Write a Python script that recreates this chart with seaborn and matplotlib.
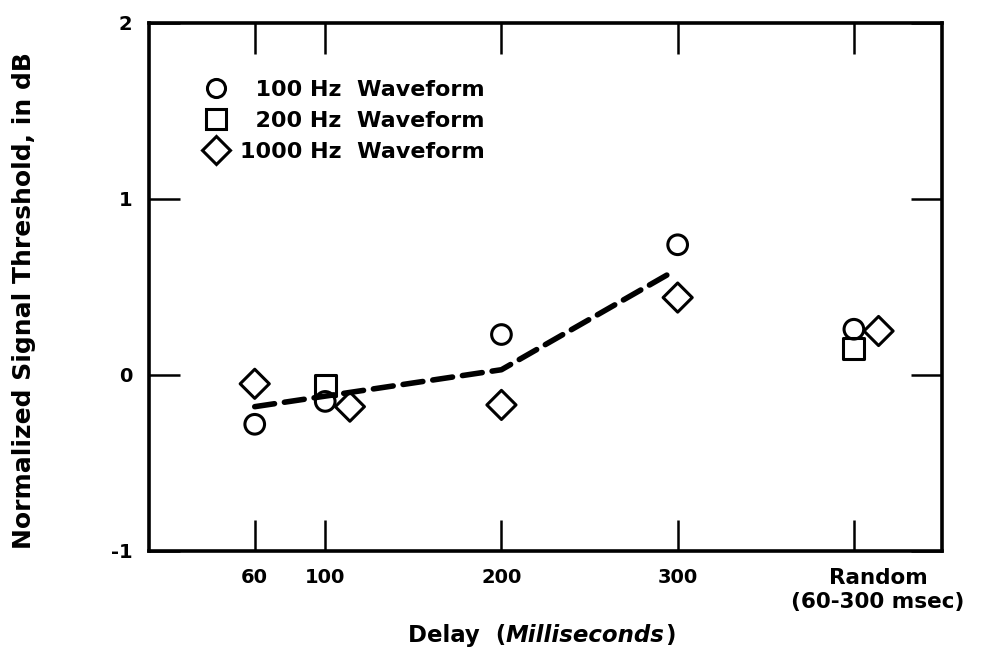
import matplotlib
matplotlib.use("Agg")
import matplotlib.pyplot as plt
import matplotlib.transforms as mtransforms
import seaborn as sns
from matplotlib.lines import Line2D
from matplotlib.offsetbox import TextArea, HPacker, AnchoredOffsetbox

# ---- data ----
delay_ticks = [60, 100, 200, 300, 400]
delay_ticklabels = ["60", "100", "200", "300", "Random\n(60-300 msec)"]
y_ticks = [-1, 0, 1, 2]
y_ticklabels = ["-1", "0", "1", "2"]

hz100_x = [60, 100, 200, 300, 400]
hz100_y = [-0.28, -0.15, 0.23, 0.74, 0.26]

hz200_x = [100, 400]
hz200_y = [-0.06, 0.15]

hz1000_x = [60, 114, 200, 300, 414]
hz1000_y = [-0.05, -0.18, -0.17, 0.44, 0.25]

fit_x = [60, 100, 200, 296]
fit_y = [-0.18, -0.12, 0.03, 0.58]

legend_labels = ["  100 Hz  Waveform", "  200 Hz  Waveform", "1000 Hz  Waveform"]

# ---- style ----
sns.set_theme(style="ticks")
plt.rcParams["font.family"] = ["DejaVu Sans"]
plt.rcParams["font.weight"] = "bold"
for k in ["text.color", "axes.labelcolor", "xtick.color", "ytick.color", "axes.edgecolor"]:
    plt.rcParams[k] = "black"

fig = plt.figure(figsize=(9.88, 6.53), dpi=100)
ax = fig.add_axes([149/988, 1 - 551/653, (942-149)/988, (551-23)/653])

ew = 2.2
sns.lineplot(x=fit_x, y=fit_y, ax=ax, color="black", linewidth=4.0,
             linestyle=(0, (3.6, 1.8)), dash_capstyle="round", estimator=None, sort=False)
sns.scatterplot(x=hz100_x, y=hz100_y, ax=ax, marker="o", s=200,
                facecolor="none", edgecolor="black", linewidth=ew, zorder=3)
sns.scatterplot(x=hz200_x, y=hz200_y, ax=ax, marker="s", s=230,
                facecolor="none", edgecolor="black", linewidth=ew, zorder=3)
sns.scatterplot(x=hz1000_x, y=hz1000_y, ax=ax, marker="D", s=220,
                facecolor="none", edgecolor="black", linewidth=ew, zorder=3)

ax.set_xlim(0, 450)
ax.set_ylim(-0.97, 2.0)

for s in ax.spines.values():
    s.set_visible(True)
    s.set_linewidth(2.6)
    s.set_color("black")

ax.tick_params(axis="x", which="both", direction="in", length=22, width=1.8,
               top=True, bottom=True, pad=12, colors="black")
ax.tick_params(axis="y", which="both", direction="in", length=22, width=1.8,
               left=True, right=True, pad=12, colors="black")

ax.set_xticks(delay_ticks)
ax.set_xticklabels(delay_ticklabels, fontsize=14, fontweight="bold", linespacing=1.3)
ax.set_yticks(y_ticks)
ax.set_yticklabels(y_ticklabels, fontsize=14, fontweight="bold")

# the "Random" label is a little larger and sits right of its tick
rand_lbl = ax.xaxis.get_major_ticks()[-1].label1
rand_lbl.set_fontsize(15.5)
rand_lbl.set_transform(rand_lbl.get_transform() +
                       mtransforms.ScaledTranslation(24/100, 0, fig.dpi_scale_trans))

ax.set_ylabel("Normalized Signal Threshold, in dB", fontsize=18, fontweight="bold")
ax.yaxis.set_label_coords(-0.142, 0.475)
ax.set_xlabel("")

# x label with mixed style
fs_x = 16.5
ta1 = TextArea("Delay  (", textprops=dict(fontsize=fs_x, fontweight="bold"))
ta2 = TextArea("Milliseconds", textprops=dict(fontsize=fs_x, fontweight="bold", fontstyle="italic"))
ta3 = TextArea(")", textprops=dict(fontsize=fs_x, fontweight="bold"))
box = HPacker(children=[ta1, ta2, ta3], align="baseline", pad=0, sep=0)
anch = AnchoredOffsetbox(loc="center", child=box, frameon=False,
                         bbox_to_anchor=(0.495, -0.16), bbox_transform=ax.transAxes, borderpad=0)
ax.add_artist(anch)

handles = [
    Line2D([], [], marker="o", linestyle="none", markersize=13, markerfacecolor="none",
           markeredgecolor="black", markeredgewidth=ew),
    Line2D([], [], marker="s", linestyle="none", markersize=14, markerfacecolor="none",
           markeredgecolor="black", markeredgewidth=ew),
    Line2D([], [], marker="D", linestyle="none", markersize=14, markerfacecolor="none",
           markeredgecolor="black", markeredgewidth=ew),
]
leg = ax.legend(handles, legend_labels, loc="upper left", bbox_to_anchor=(0.045, 0.93),
                frameon=False, handlelength=1.0, handletextpad=0.6, labelspacing=0.5,
                prop=dict(size=16, weight="bold"))

fig.savefig("out.png", dpi=100)
